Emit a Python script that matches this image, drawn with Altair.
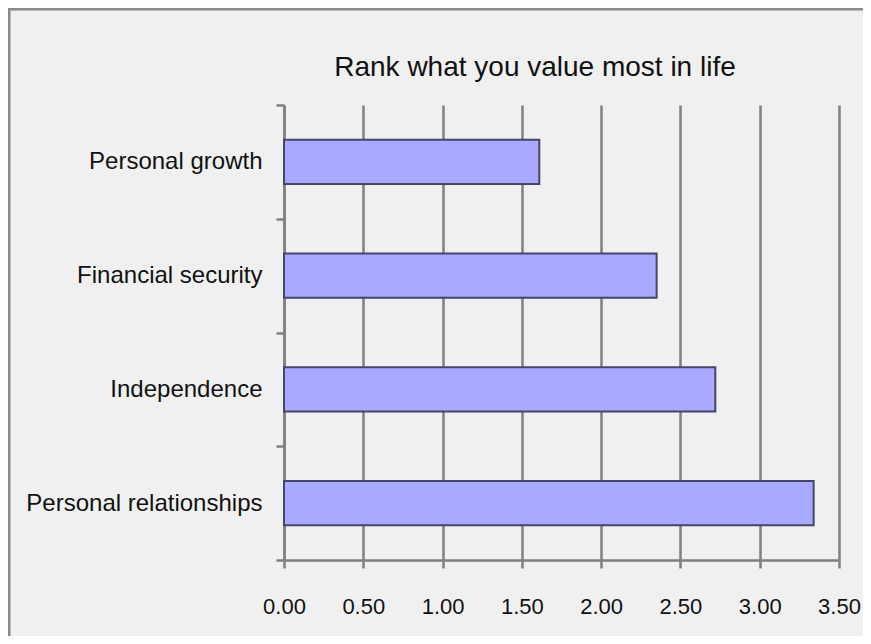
import altair as alt
import pandas as pd

categories = ["Personal growth", "Financial security", "Independence", "Personal relationships"]
values = [1.61, 2.35, 2.72, 3.34]
x_ticks = [0.0, 0.5, 1.0, 1.5, 2.0, 2.5, 3.0, 3.5]
title_text = "Rank what you value most in life"

df = pd.DataFrame({"category": categories, "value": values})

FONT = "Liberation Sans, Arial, sans-serif"
GRID = "#808080"

bars = alt.Chart(df).mark_bar(
    height=alt.RelativeBandSize(0.387),
    fill="#a9a9ff",
    stroke="#45456a",
    strokeWidth=2,
).encode(
    x=alt.X(
        "value:Q",
        scale=alt.Scale(domain=[0, 3.5], nice=False, zero=True),
        axis=alt.Axis(
            values=x_ticks,
            format=".2f",
            title=None,
            grid=True,
            gridColor=GRID,
            gridWidth=2.5,
            gridOpacity=1,
            domainColor=GRID,
            domainWidth=2.5,
            tickColor=GRID,
            tickWidth=2.5,
            tickSize=8,
            labelFont=FONT,
            labelFontSize=22,
            labelColor="#111111",
            labelPadding=28,
            labelOverlap=False,
            labelFlush=False,
        ),
    ),
    y=alt.Y(
        "category:N",
        sort=categories,
        scale=alt.Scale(paddingInner=0, paddingOuter=0),
        axis=alt.Axis(
            title=None,
            grid=False,
            tickBand="extent",
            domainColor=GRID,
            domainWidth=2.5,
            tickColor=GRID,
            tickWidth=2.5,
            tickSize=8,
            labelFont=FONT,
            labelFontSize=24,
            labelColor="#111111",
            labelPadding=14,
            labelLimit=0,
            labelOverlap=False,
        ),
    ),
)

title = alt.Chart(pd.DataFrame({"t": [title_text]})).mark_text(
    font=FONT, fontSize=28, color="#111111", align="center", baseline="alphabetic"
).encode(
    text="t:N",
    x=alt.value(251),
    y=alt.value(-29),
)

border = alt.Chart(pd.DataFrame({"a": [0]})).mark_rect(
    filled=False, stroke="#8a8a8a", strokeWidth=3
).encode(
    x=alt.value(-275),
    x2=alt.value(800),
    y=alt.value(-96),
    y2=alt.value(800),
)

chart = alt.layer(border, title, bars).properties(
    width=555,
    height=455,
    autosize=alt.AutoSizeParams(type="none"),
    padding={"left": 276, "top": 97, "right": 24, "bottom": 76},
    background="#f0f0f0",
).configure_view(stroke=None)

chart.save("out.html", embed_options={"renderer": "svg", "actions": False})
